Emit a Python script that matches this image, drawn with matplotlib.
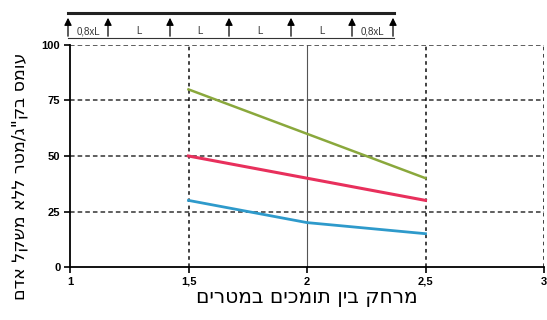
import matplotlib
matplotlib.use("Agg")
import matplotlib.pyplot as plt

x_vals = [1.5, 2.0, 2.5]
green_vals = [80, 60, 40]
red_vals = [50, 40, 30]
blue_vals = [30, 20, 15]
x_ticks = [1, 1.5, 2, 2.5, 3]
x_tick_labels = ["1", "1,5", "2", "2,5", "3"]
y_ticks = [0, 25, 50, 75, 100]
xlabel = "מרחק בין תומכים במטרים"
ylabel = 'עומס בק"ג/מטר ללא משקל אדם'
beam_labels = ["0,8xL", "L", "L", "L", "L", "0,8xL"]

def heb(s):
    return s[::-1]

W, H = 547, 320
fig = plt.figure(figsize=(W/100, H/100), dpi=100)
ax = fig.add_axes([70/W, 1-267/H, (544-70)/W, (267-45)/H])
ax.set_xlim(1, 3)
ax.set_ylim(0, 100)

# grid lines
for yv in [25, 50, 75, 100]:
    ax.axhline(yv, color="black", lw=1.1, ls=(0, (3, 2)), zorder=1, alpha=0.8)
for xv in [1.5, 2.5, 3]:
    ax.axvline(xv, color="black", lw=1.3, ls=(0, (2, 2)), zorder=1, alpha=0.8)
ax.axvline(2, color="#555555", lw=0.8, zorder=1)

ax.plot(x_vals, green_vals, color="#8aa83c", lw=1.8, zorder=3)
ax.plot(x_vals, red_vals, color="#e8305c", lw=2.2, zorder=3)
ax.plot(x_vals, blue_vals, color="#2e9acb", lw=2.0, zorder=3)

ax.set_xticks(x_ticks)
ax.set_xticklabels(x_tick_labels, fontsize=8, fontweight="bold", family="Liberation Sans")
ax.set_yticks(y_ticks)
ax.set_yticklabels([str(v) for v in y_ticks], fontsize=8, fontweight="bold", family="Liberation Sans")
for sp in ["top", "right"]:
    ax.spines[sp].set_visible(False)
ax.spines["left"].set_linewidth(1.3)
ax.spines["bottom"].set_linewidth(1.3)
ax.tick_params(length=4, width=1.2, pad=3)
ax.set_xlabel(heb(xlabel), fontsize=14.5, family="DejaVu Sans", labelpad=1)
ax.set_ylabel(heb(ylabel), fontsize=12.5, family="DejaVu Sans")
ax.yaxis.set_label_coords(-0.088, 0.41)

# beam diagram overlay (pixel coordinates)
ov = fig.add_axes([0, 0, 1, 1])
ov.set_xlim(0, W)
ov.set_ylim(H, 0)
ov.axis("off")
ov.plot([68, 394], [13, 13], color="#222222", lw=2.2)
supports = [68, 108, 170, 229, 291, 352, 393]
for sx in supports:
    ov.annotate("", xy=(sx, 15), xytext=(sx, 39),
                arrowprops=dict(arrowstyle="-|>", color="black", lw=0.9, mutation_scale=11))
ov.plot([68, 394], [38, 38], color="#333333", lw=0.8)
for i in range(len(supports)-1):
    mx = (supports[i] + supports[i+1]) / 2
    ov.text(mx, 36.5, beam_labels[i], ha="center", va="bottom", fontsize=7,
            family="Liberation Sans", color="#333333")

fig.savefig("out.png", dpi=100)
